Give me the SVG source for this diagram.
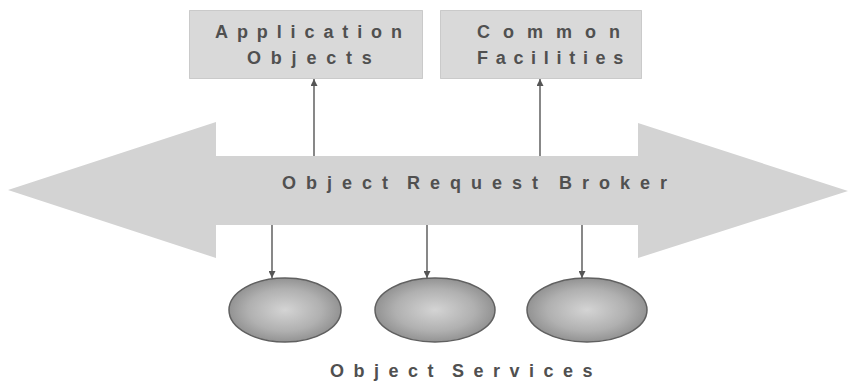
<svg xmlns="http://www.w3.org/2000/svg" width="851" height="382" viewBox="0 0 851 382">
  <defs>
    <radialGradient id="sphereShade" cx="50%" cy="50%" r="55%">
      <stop offset="0" stop-color="#d4d4d4"/>
      <stop offset="0.6" stop-color="#b0b0b0"/>
      <stop offset="1" stop-color="#8a8a8a"/>
    </radialGradient>
    <marker id="tip" viewBox="0 0 10 10" refX="10" refY="5" markerWidth="7" markerHeight="7" markerUnits="userSpaceOnUse" orient="auto">
      <path d="M0,0 L10,5 L0,10 z" fill="#555"/>
    </marker>
  </defs>
  <style>
    .box { fill: #d9d9d9; stroke: #a8a8a8; stroke-width: 1; stroke-dasharray: 1 1; }
    .bus { fill: #d3d3d3; }
    .svc { fill: url(#sphereShade); stroke: #606060; stroke-width: 1.5; }
    .lbl { font-family: "Liberation Sans", Arial, sans-serif; font-weight: bold; font-size: 18px; fill: #505050; }
    .link { stroke: #555; stroke-width: 1.4; fill: none; marker-end: url(#tip); }
  </style>

  <rect width="851" height="382" fill="#ffffff"/>

  <!-- double-headed broker bus -->
  <g id="orb">
    <path class="bus" d="M8,190 L216,122 L216,156 L638,156 L638,123 L848,191 L638,258 L638,225 L216,225 L216,258 Z"/>
    <text class="lbl" y="189" letter-spacing="10">
      <tspan x="282">Object</tspan><tspan x="407">Request</tspan><tspan x="559">Broker</tspan>
    </text>
  </g>

  <g id="application-objects">
    <rect class="box" x="189.5" y="10.5" width="233" height="68"/>
    <text class="lbl" x="215" y="38" letter-spacing="8.9">Application</text>
    <text class="lbl" x="247" y="64" letter-spacing="9.8">Objects</text>
  </g>

  <g id="common-facilities">
    <rect class="box" x="440.5" y="10.5" width="201" height="68"/>
    <text class="lbl" x="477" y="38" letter-spacing="13">Common</text>
    <text class="lbl" x="477" y="64" letter-spacing="7.7">Facilities</text>
  </g>

  <g id="service-1">
    <ellipse class="svc" cx="285" cy="310" rx="56" ry="32"/>
  </g>
  <g id="service-2">
    <ellipse class="svc" cx="435" cy="310" rx="60" ry="32"/>
  </g>
  <g id="service-3">
    <ellipse class="svc" cx="587" cy="310" rx="60" ry="32"/>
  </g>

  <g id="services-label">
    <text class="lbl" y="377" letter-spacing="9.5">
      <tspan x="330">Object</tspan><tspan x="452">Services</tspan>
    </text>
  </g>

  <g id="connectors">
    <line class="link" x1="314" y1="156" x2="314" y2="79"/>
    <line class="link" x1="540" y1="156" x2="540" y2="79"/>
    <line class="link" x1="272" y1="225" x2="272" y2="278"/>
    <line class="link" x1="427" y1="225" x2="427" y2="278"/>
    <line class="link" x1="582" y1="225" x2="582" y2="278"/>
  </g>
</svg>
